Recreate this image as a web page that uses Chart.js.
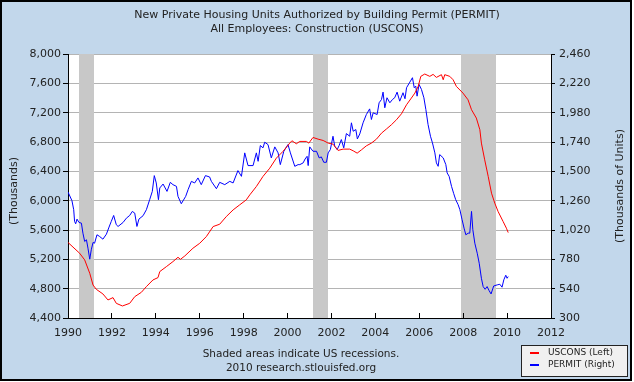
<!DOCTYPE html>
<html><head><meta charset="utf-8">
<script src="https://cdn.jsdelivr.net/npm/chart.js@4/dist/chart.umd.min.js"></script>
<style>html,body{margin:0;padding:0;background:#fff;}canvas{display:block;}</style>
</head><body>
<canvas id="c" width="634" height="382"></canvas>
<script>
const titleLines = ["New Private Housing Units Authorized by Building Permit (PERMIT)", "All Employees: Construction (USCONS)"];
const leftAxisTitle = "(Thousands)";
const rightAxisTitle = "(Thousands of Units)";
const footerLines = ["Shaded areas indicate US recessions.", "2010 research.stlouisfed.org"];
const legendLabels = ["USCONS (Left)", "PERMIT (Right)"];

const usconsYears = [1990.0,1990.53,1990.76,1990.99,1991.14,1991.29,1991.59,1991.82,1992.05,1992.2,1992.48,1992.81,1993.04,1993.34,1993.57,1993.87,1994.1,1994.18,1994.48,1994.78,1995.01,1995.12,1995.32,1995.69,1996.0,1996.3,1996.61,1996.91,1997.21,1997.52,1997.82,1998.12,1998.28,1998.58,1998.88,1999.19,1999.49,1999.79,2000.1,2000.2,2000.4,2000.56,2000.86,2000.97,2001.16,2001.39,2001.62,2001.85,2002.07,2002.3,2002.53,2002.83,2002.99,2003.17,2003.37,2003.59,2003.82,2004.05,2004.28,2004.5,2004.73,2004.96,2005.19,2005.42,2005.64,2005.8,2005.95,2006.07,2006.25,2006.48,2006.63,2006.78,2007.01,2007.09,2007.16,2007.39,2007.54,2007.69,2007.99,2008.22,2008.38,2008.6,2008.76,2008.83,2008.98,2009.14,2009.29,2009.44,2009.59,2009.82,2009.97,2010.05];
const usconsValues = [5430,5283,5192,5010,4850,4791,4728,4646,4678,4600,4564,4600,4691,4750,4828,4919,4951,5033,5100,5169,5228,5200,5246,5351,5419,5510,5647,5679,5783,5874,5943,6011,6079,6193,6330,6443,6580,6671,6785,6817,6776,6808,6808,6785,6862,6839,6821,6785,6771,6685,6703,6703,6680,6648,6694,6748,6785,6839,6921,6976,7035,7103,7185,7308,7399,7467,7558,7695,7727,7695,7722,7681,7718,7649,7718,7695,7649,7558,7467,7376,7240,7126,6967,6785,6557,6330,6102,5966,5852,5715,5624,5565];

const permitYears = [1990.0,1990.18,1990.26,1990.3,1990.35,1990.41,1990.5,1990.61,1990.68,1990.76,1990.84,1990.91,1990.99,1991.06,1991.14,1991.21,1991.32,1991.44,1991.59,1991.75,1991.87,1991.97,1992.08,1992.2,1992.28,1992.51,1992.66,1992.81,1992.93,1993.04,1993.14,1993.23,1993.42,1993.57,1993.72,1993.84,1993.93,1994.02,1994.12,1994.18,1994.33,1994.51,1994.66,1994.78,1994.94,1995.01,1995.16,1995.36,1995.47,1995.62,1995.77,1995.92,1996.07,1996.26,1996.45,1996.53,1996.76,1996.91,1997.14,1997.37,1997.52,1997.74,1997.9,1998.05,1998.2,1998.43,1998.58,1998.66,1998.76,1998.88,1998.96,1999.11,1999.26,1999.42,1999.57,1999.67,1999.83,2000.02,2000.13,2000.33,2000.48,2000.56,2000.71,2000.8,2000.89,2000.94,2001.01,2001.16,2001.32,2001.44,2001.54,2001.65,2001.77,2001.85,2001.95,2002.07,2002.15,2002.26,2002.35,2002.45,2002.56,2002.68,2002.83,2002.91,2002.99,2003.11,2003.18,2003.29,2003.44,2003.59,2003.74,2003.82,2003.9,2004.08,2004.17,2004.28,2004.35,2004.43,2004.53,2004.66,2004.78,2004.88,2004.99,2005.11,2005.26,2005.35,2005.42,2005.57,2005.69,2005.77,2005.84,2005.9,2005.99,2006.1,2006.21,2006.3,2006.4,2006.51,2006.6,2006.71,2006.78,2006.86,2006.93,2007.09,2007.21,2007.27,2007.36,2007.47,2007.57,2007.66,2007.77,2007.85,2007.95,2008.04,2008.12,2008.23,2008.3,2008.38,2008.44,2008.53,2008.64,2008.73,2008.83,2008.91,2009.0,2009.09,2009.18,2009.27,2009.39,2009.55,2009.67,2009.77,2009.85,2009.94,2010.0,2010.05];
const permitValues = [1331,1260,1186,1090,1071,1109,1082,1076,994,926,940,871,781,858,918,912,981,967,945,986,1044,1090,1139,1063,1049,1082,1117,1139,1172,1158,1049,1109,1137,1186,1268,1336,1465,1405,1268,1364,1396,1336,1410,1391,1377,1295,1235,1295,1350,1418,1405,1446,1391,1465,1454,1418,1358,1410,1391,1418,1405,1506,1459,1651,1547,1547,1651,1582,1711,1692,1738,1719,1610,1700,1651,1555,1664,1719,1651,1541,1555,1555,1569,1601,1623,1547,1700,1664,1664,1610,1618,1574,1574,1651,1678,1787,1705,1678,1711,1760,1692,1809,1787,1897,1828,1842,1765,1806,1897,1965,2011,1924,1979,1965,2061,2088,2148,2020,2102,2061,2088,2102,2148,2074,2143,2094,2184,2230,2266,2184,2197,2115,2211,2170,2102,2006,1883,1787,1733,1651,1569,1541,1637,1610,1555,1487,1459,1377,1317,1268,1227,1186,1104,1035,981,994,994,1172,1022,912,830,748,625,557,535,557,524,497,562,571,576,552,612,650,625,639];

const recessions = [[1990.5, 1991.17], [2001.15, 2001.86], [2007.9, 2009.5]];
const xRange = [1990, 2012, 2];
const leftRange = [4400, 8000, 400];
const rightRange = [300, 2460, 240];

const FONT = "DejaVu Sans";
const BG = "#c2d7eb";

const decor = {
  id: 'decor',
  beforeDraw(chart) {
    const {ctx, chartArea: a} = chart;
    ctx.save();
    ctx.fillStyle = '#fff';
    ctx.fillRect(0, 0, chart.width, chart.height);
    ctx.fillStyle = BG;
    ctx.fillRect(1, 1, 630, 379);
    ctx.strokeStyle = '#000';
    ctx.lineWidth = 2;
    ctx.strokeRect(1, 1, 630, 379);
    ctx.fillStyle = '#fff';
    ctx.fillRect(a.left, a.top, a.right - a.left, a.bottom - a.top);
    ctx.restore();
  },
  beforeDatasetsDraw(chart) {
    const {ctx, chartArea: a, scales: {x}} = chart;
    ctx.save();
    ctx.fillStyle = '#c8c8c8';
    recessions.forEach(([s, e]) => {
      const x1 = Math.round(x.getPixelForValue(s));
      const x2 = Math.round(x.getPixelForValue(e));
      ctx.fillRect(x1, a.top, x2 - x1, a.bottom - a.top);
    });
    ctx.restore();
  },
  afterDraw(chart) {
    const {ctx} = chart;
    ctx.save();
    ctx.fillStyle = '#222';
    ctx.font = "11px '" + FONT + "'";
    ctx.textAlign = 'center';
    ctx.textBaseline = 'middle';
    ctx.save();
    ctx.translate(14, 191);
    ctx.rotate(-Math.PI / 2);
    ctx.fillText(leftAxisTitle, 0, 0);
    ctx.restore();
    ctx.save();
    ctx.translate(620, 186);
    ctx.rotate(-Math.PI / 2);
    ctx.fillText(rightAxisTitle, 0, 0);
    ctx.restore();
    ctx.font = "10.5px '" + FONT + "'";
    ctx.fillText(footerLines[0], 301, 354);
    ctx.fillText(footerLines[1], 301, 368);
    ctx.fillStyle = '#f0f0f0';
    ctx.fillRect(521, 345, 107, 32);
    ctx.strokeStyle = '#222';
    ctx.lineWidth = 1;
    ctx.strokeRect(521.5, 345.5, 106, 31);
    const colors = ['#ff0000', '#0000ff'];
    const ys = [353, 364.5];
    ctx.font = "9px '" + FONT + "'";
    ctx.textAlign = 'left';
    legendLabels.forEach((t, i) => {
      ctx.fillStyle = colors[i];
      ctx.fillRect(530, Math.round(ys[i]) - 1, 9, 2);
      ctx.fillStyle = '#222';
      ctx.fillText(t, 548, ys[i]);
    });
    ctx.restore();
  }
};

Chart.defaults.font.family = FONT;
Chart.defaults.font.size = 11;
Chart.defaults.color = '#222';

new Chart(document.getElementById('c'), {
  type: 'line',
  data: {
    datasets: [
      {
        label: legendLabels[0],
        data: usconsYears.map((x, i) => ({x, y: usconsValues[i]})),
        borderColor: '#ff0000', borderWidth: 1, pointRadius: 0, tension: 0,
        yAxisID: 'y'
      },
      {
        label: legendLabels[1],
        data: permitYears.map((x, i) => ({x, y: permitValues[i]})),
        borderColor: '#0000ff', borderWidth: 1, pointRadius: 0, tension: 0,
        yAxisID: 'y1'
      }
    ]
  },
  options: {
    responsive: false,
    animation: false,
    devicePixelRatio: 1,
    layout: {padding: 0},
    plugins: {
      legend: {display: false},
      tooltip: {enabled: false},
      title: {
        display: true,
        text: titleLines,
        color: '#222',
        font: {size: 11, weight: 'normal', lineHeight: 14.5 / 11},
        padding: {top: 7.75, bottom: 17.25}
      }
    },
    scales: {
      x: {
        type: 'linear', position: 'bottom',
        min: xRange[0], max: xRange[1],
        ticks: {stepSize: xRange[2], callback: v => String(v), padding: 14, maxRotation: 0, autoSkip: false, color: '#222'},
        grid: {drawOnChartArea: false, drawTicks: true, tickLength: -5, tickColor: '#000', z: 1},
        border: {color: '#000', z: 1},
        afterFit: s => { s.height = 64; }
      },
      y: {
        type: 'linear', position: 'left',
        min: leftRange[0], max: leftRange[1],
        ticks: {stepSize: leftRange[2], padding: 2, color: '#222'},
        grid: {color: '#b4b4b4', tickColor: '#000', tickLength: 5},
        border: {color: '#000'},
        afterFit: s => { s.width = 68; }
      },
      y1: {
        type: 'linear', position: 'right',
        min: rightRange[0], max: rightRange[1],
        ticks: {stepSize: rightRange[2], padding: 4, color: '#222'},
        grid: {drawOnChartArea: false, tickColor: '#000', tickLength: 4},
        border: {color: '#000'},
        afterFit: s => { s.width = 83; }
      }
    }
  },
  plugins: [decor]
});
</script>
</body></html>
